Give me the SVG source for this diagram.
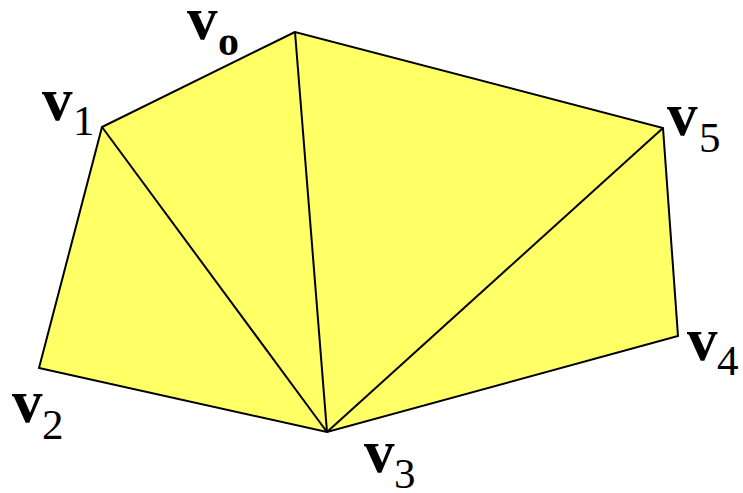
<svg xmlns="http://www.w3.org/2000/svg" width="743" height="493" viewBox="0 0 743 493">
<style>
.face{fill:#FFFF66;stroke:none}
.edge{fill:none;stroke:#000;stroke-width:2;stroke-linejoin:miter}
.v{font-family:"Liberation Serif",serif;font-weight:bold;font-size:61px;fill:#000}
.s{font-family:"Liberation Serif",serif;font-size:43px;fill:#000}
.sb{font-family:"Liberation Serif",serif;font-weight:bold;font-size:42px;fill:#000}
</style>
<rect width="743" height="493" fill="#fff"/>
<g id="mesh">
<polygon class="face" points="295,32 102,127 39,368 327,432 678,336 663,128"/>
</g>
<g id="connectors">
<polygon class="edge" points="295,32 102,127 39,368 327,432 678,336 663,128"/>
<line class="edge" x1="102" y1="127" x2="327" y2="432"/>
<line class="edge" x1="295" y1="32" x2="327" y2="432"/>
<line class="edge" x1="663" y1="128" x2="327" y2="432"/>
</g>
<g id="v0"><text class="v" x="187" y="39">v</text><text class="sb" x="218" y="55">o</text></g>
<g id="v1"><text class="v" x="42" y="120">v</text><text class="s" x="73" y="135">1</text></g>
<g id="v2"><text class="v" x="12" y="422">v</text><text class="s" x="42" y="439">2</text></g>
<g id="v3"><text class="v" x="364" y="472">v</text><text class="s" x="394" y="488">3</text></g>
<g id="v4"><text class="v" x="687" y="360">v</text><text class="s" x="717" y="375">4</text></g>
<g id="v5"><text class="v" x="667" y="135">v</text><text class="s" x="699" y="152">5</text></g>
</svg>
